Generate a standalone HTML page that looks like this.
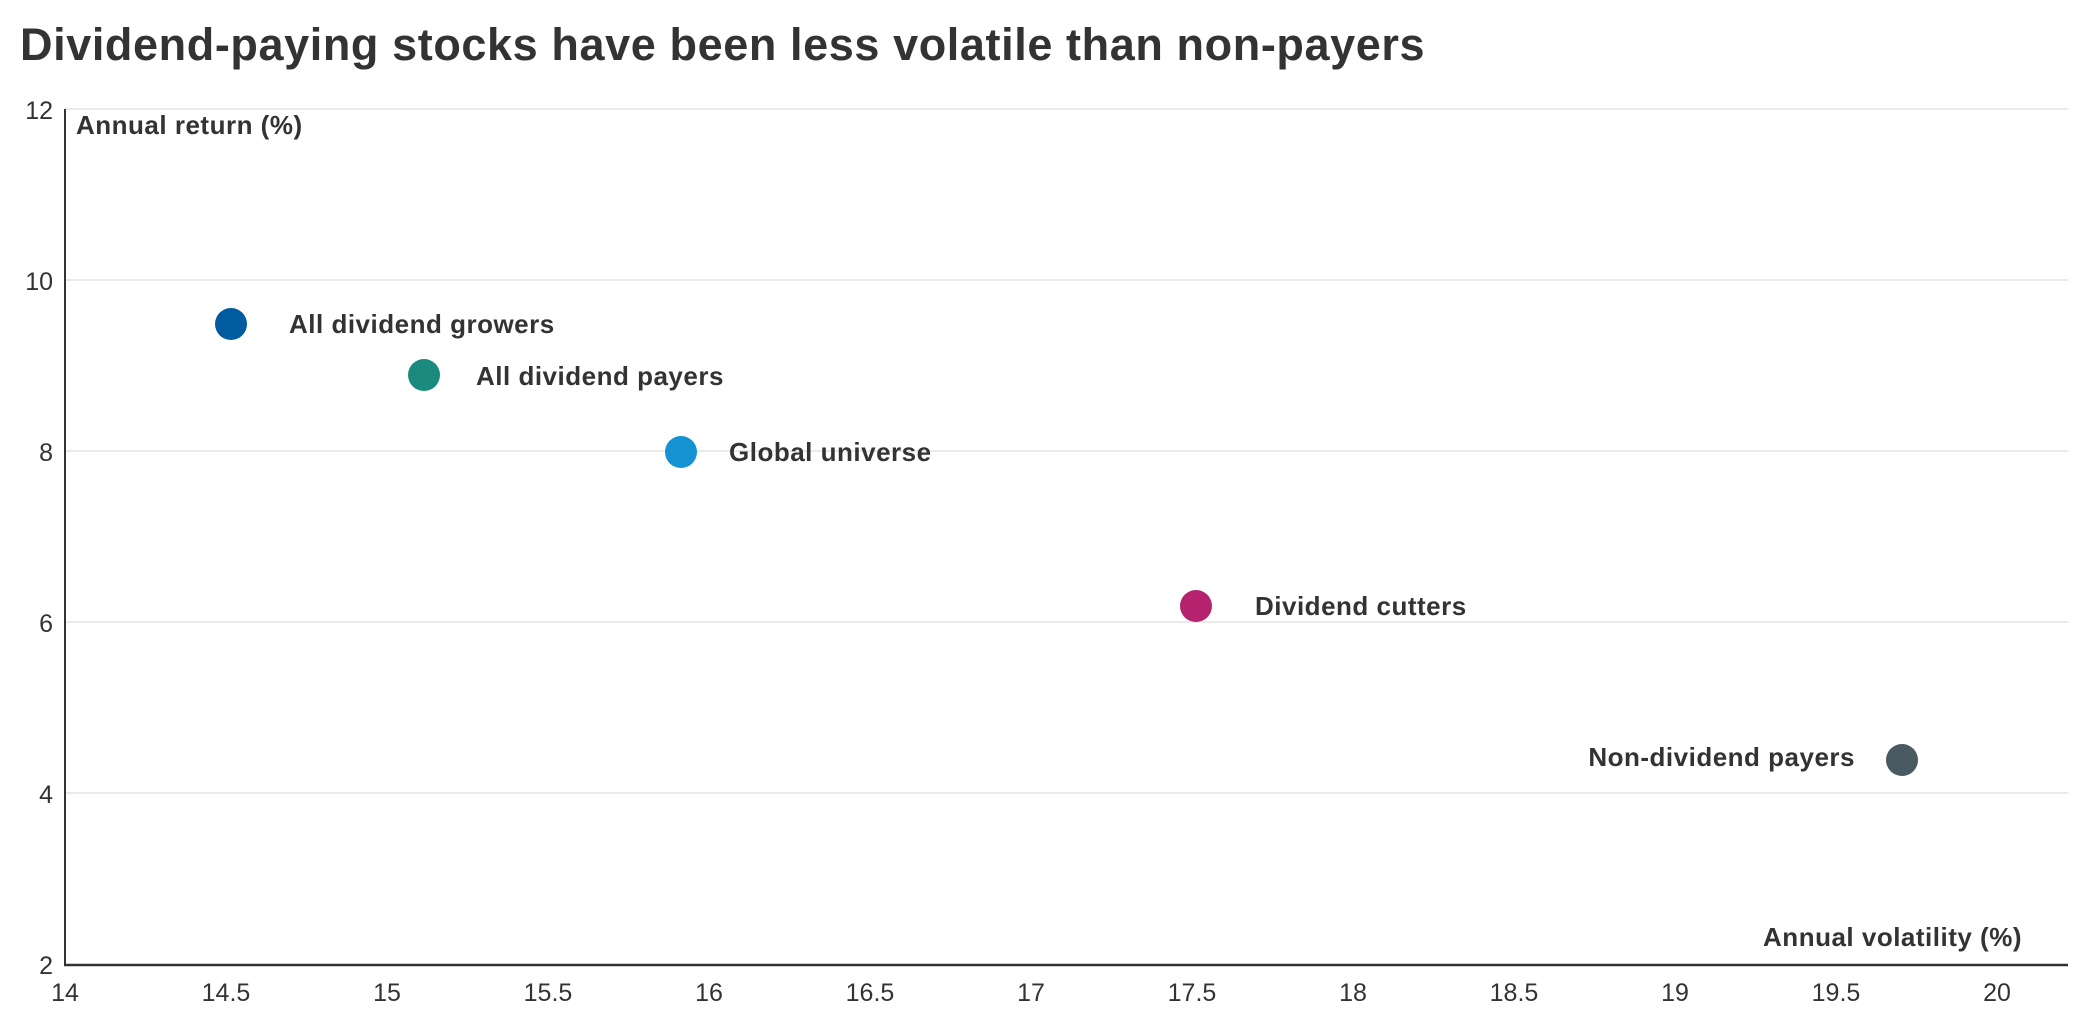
<!DOCTYPE html>
<html><head><meta charset="utf-8"><style>
body{margin:0;background:#fff;}
svg{display:block;font-family:"Liberation Sans",sans-serif;}
</style></head><body>
<svg width="2088" height="1026" viewBox="0 0 2088 1026">
<text x="20" y="60" font-size="45" font-weight="bold" fill="#333" letter-spacing="0.6">Dividend-paying stocks have been less volatile than non-payers</text>
<g stroke="#e3e3e3" stroke-width="1.5">
<line x1="65" y1="109" x2="2068" y2="109"/>
<line x1="65" y1="280" x2="2068" y2="280"/>
<line x1="65" y1="451" x2="2068" y2="451"/>
<line x1="65" y1="622" x2="2068" y2="622"/>
<line x1="65" y1="793" x2="2068" y2="793"/>
</g>
<line x1="65" y1="109" x2="65" y2="966" stroke="#333" stroke-width="2"/>
<line x1="64" y1="965" x2="2068" y2="965" stroke="#333" stroke-width="2.5"/>
<g font-size="25" fill="#333" text-anchor="end">
<text x="53" y="119">12</text><text x="53" y="290">10</text><text x="53" y="461">8</text>
<text x="53" y="632">6</text><text x="53" y="803">4</text><text x="53" y="974">2</text>
</g>
<g font-size="25" fill="#333" text-anchor="middle">
<text x="65" y="1001">14</text><text x="226" y="1001">14.5</text><text x="387" y="1001">15</text>
<text x="548" y="1001">15.5</text><text x="709" y="1001">16</text><text x="870" y="1001">16.5</text>
<text x="1031" y="1001">17</text><text x="1192" y="1001">17.5</text><text x="1353" y="1001">18</text>
<text x="1514" y="1001">18.5</text><text x="1675" y="1001">19</text><text x="1836" y="1001">19.5</text>
<text x="1997" y="1001">20</text>
</g>
<g font-size="26" font-weight="bold" fill="#333" letter-spacing="0.5">
<text x="76" y="134">Annual return (%)</text>
<text x="2022" y="946" text-anchor="end">Annual volatility (%)</text>
<text x="289" y="333">All dividend growers</text>
<text x="476" y="385">All dividend payers</text>
<text x="729" y="461">Global universe</text>
<text x="1255" y="615">Dividend cutters</text>
<text x="1855" y="766" text-anchor="end">Non-dividend payers</text>
</g>
<circle cx="231" cy="324" r="16" fill="#005c9e"/>
<circle cx="424" cy="375" r="16" fill="#1a8a7f"/>
<circle cx="681" cy="452" r="16" fill="#1592d1"/>
<circle cx="1196" cy="606" r="16" fill="#b5236e"/>
<circle cx="1902" cy="760" r="16" fill="#4a5a63"/>
</svg>
</body></html>
